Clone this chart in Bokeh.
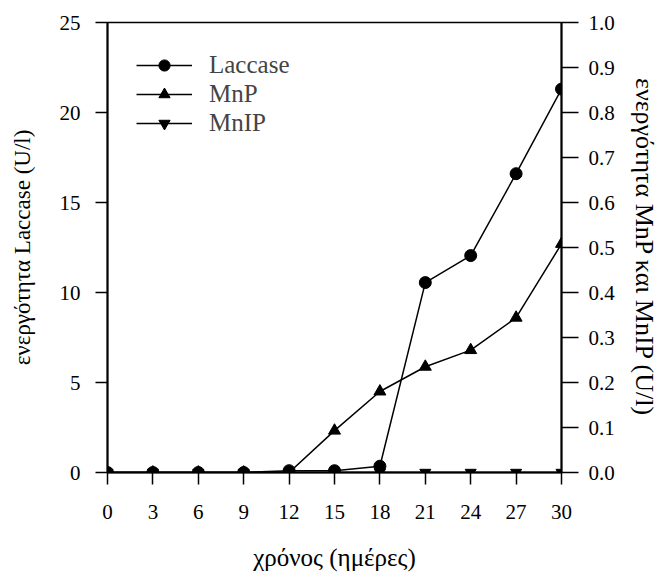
from bokeh.plotting import figure
from bokeh.models import Range1d, LinearAxis, FixedTicker, Legend, LegendItem, CustomJSTickFormatter
from bokeh.embed import file_html
from bokeh.resources import INLINE

days = [0, 3, 6, 9, 12, 15, 18, 21, 24, 27, 30]
laccase = [0, 0, 0, 0, 0.1, 0.1, 0.35, 10.55, 12.05, 16.6, 21.3]
mnp = [0, 0, 0, 0, 0, 0.093, 0.18, 0.235, 0.272, 0.344, 0.508]
mnip = [0, 0, 0, 0, 0, 0, 0, 0, 0, 0, 0]

x_ticks = [0, 3, 6, 9, 12, 15, 18, 21, 24, 27, 30]
left_ticks = [0, 5, 10, 15, 20, 25]
right_ticks = [0.0, 0.1, 0.2, 0.3, 0.4, 0.5, 0.6, 0.7, 0.8, 0.9, 1.0]

FONT = "Liberation Serif"

p = figure(width=661, height=575, output_backend="svg", toolbar_location=None,
           x_range=Range1d(0, 30), y_range=Range1d(0, 25),
           min_border_left=107, min_border_right=99, min_border_top=22, min_border_bottom=103)
p.extra_y_ranges = {"right": Range1d(0, 1.0)}
p.grid.visible = False
p.outline_line_color = "black"
p.outline_line_width = 1.5
p.background_fill_color = "white"
p.border_fill_color = "white"

# MnIP
l3 = p.line(days, mnip, y_range_name="right", line_color="black", line_width=1.5)
s3 = p.scatter(days, mnip, y_range_name="right", marker="inverted_triangle", size=11,
               fill_color="black", line_color="black")
# MnP
l2 = p.line(days, mnp, y_range_name="right", line_color="black", line_width=1.5)
s2 = p.scatter(days, mnp, y_range_name="right", marker="triangle", size=12,
               fill_color="black", line_color="black")
# Laccase
l1 = p.line(days, laccase, line_color="black", line_width=1.5)
s1 = p.scatter(days, laccase, marker="circle", size=12, fill_color="black", line_color="black")

def style_axis(ax):
    ax.axis_line_color = "black"
    ax.axis_line_width = 2
    ax.major_tick_line_color = "black"
    ax.major_tick_line_width = 1.5
    ax.major_tick_in = 0
    ax.major_tick_out = 12
    ax.minor_tick_line_color = None
    ax.major_label_text_font = FONT
    ax.major_label_text_font_size = "21px"
    ax.major_label_text_color = "black"
    ax.axis_label_text_font = FONT
    ax.axis_label_text_font_size = "23px"
    ax.axis_label_text_font_style = "normal"
    ax.axis_label_text_color = "black"

xa = p.xaxis[0]
xa.ticker = FixedTicker(ticks=x_ticks)
xa.axis_label = "χρόνος (ημέρες)"
style_axis(xa)
xa.major_label_standoff = 20
xa.axis_label_standoff = 22
xa.axis_label_text_font_size = "25px"

ya = p.yaxis[0]
ya.ticker = FixedTicker(ticks=left_ticks)
ya.axis_label = "ενεργότητα Laccase (U/l)"
style_axis(ya)
ya.major_label_standoff = 15
ya.axis_label_standoff = 22

ra = LinearAxis(y_range_name="right", axis_label="ενεργότητα MnP και MnIP (U/l)")
ra.ticker = FixedTicker(ticks=right_ticks)
style_axis(ra)
ra.major_tick_out = 17
ra.major_label_standoff = 10
ra.axis_label_standoff = 12
ra.axis_label_text_font_size = "26px"
ra.formatter = CustomJSTickFormatter(code="return tick.toFixed(1);")
p.add_layout(ra, "right")

legend = Legend(items=[
    LegendItem(label="Laccase", renderers=[l1, s1]),
    LegendItem(label="MnP", renderers=[l2, s2]),
    LegendItem(label="MnIP", renderers=[l3, s3]),
], location="top_left")
legend.margin = 29
legend.padding = 9
legend.glyph_width = 56
legend.glyph_height = 28
legend.spacing = 1
legend.label_standoff = 17
legend.label_text_font = FONT
legend.label_text_font_size = "25px"
legend.label_height = 28
legend.border_line_color = None
legend.background_fill_alpha = 0
p.add_layout(legend)

open("out.html", "w").write(file_html(p, INLINE))
